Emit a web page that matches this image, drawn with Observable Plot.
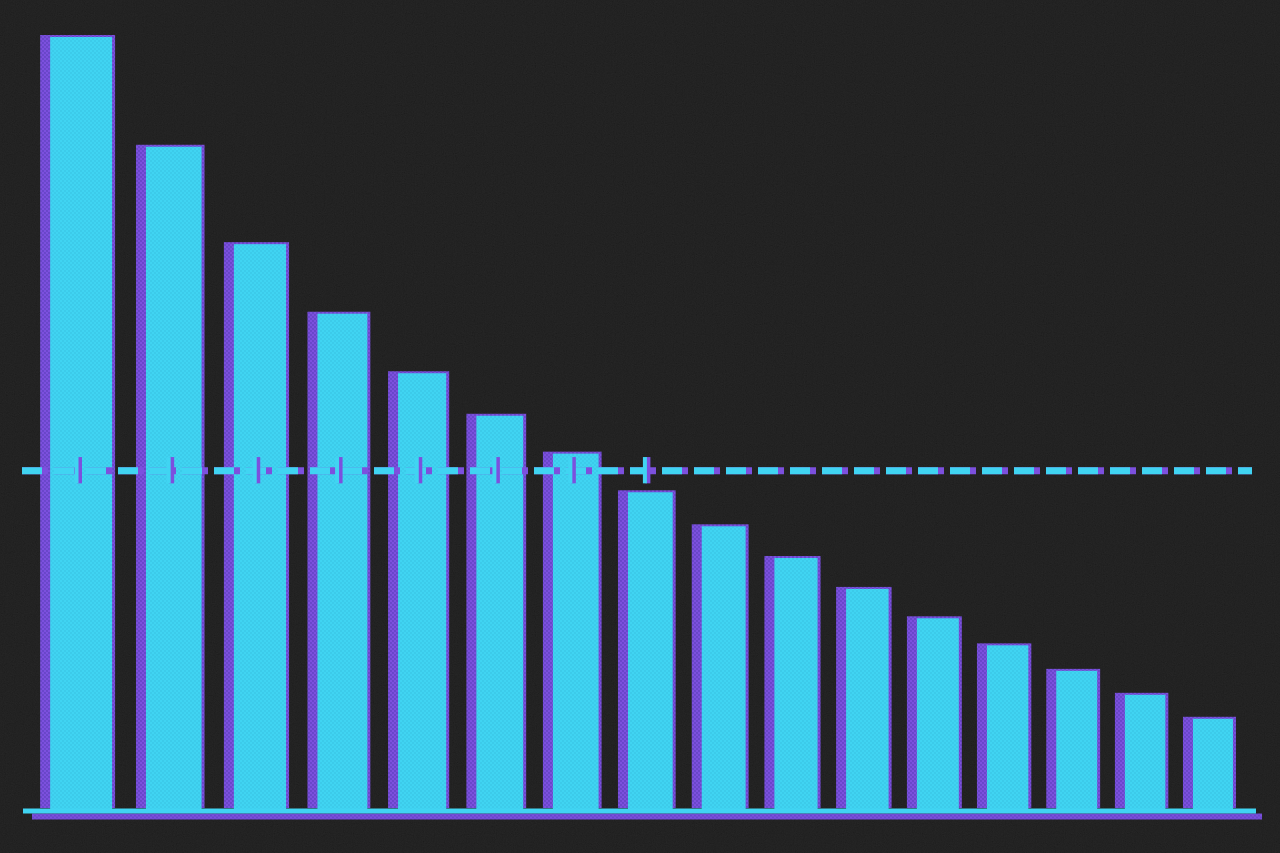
<!DOCTYPE html>
<html>
<head>
<meta charset="utf-8">
<script src="https://cdn.jsdelivr.net/npm/d3@7"></script>
<script src="https://cdn.jsdelivr.net/npm/@observablehq/plot@0.6"></script>
<style>
  html, body { margin: 0; padding: 0; background: #1c1c1c; overflow: hidden; }
  #chart svg { display: block; }
</style>
</head>
<body>
<div id="chart"></div>
<script>
// Data (first bar = 100)
const categories = [1, 2, 3, 4, 5, 6, 7, 8, 9, 10, 11, 12, 13, 14, 15, 16];
const values = [100, 85.8, 73.2, 64.2, 56.5, 51.0, 46.1, 41.1, 36.7, 32.6, 28.6, 24.8, 21.3, 18.0, 14.9, 11.8];
const referenceValue = 43.7;
const tickedCategories = [1, 2, 3, 4, 5, 6, 7, 8];

const data = categories.map((c, i) => ({category: c, value: values[i]}));

const CYAN = "#40d4f2";
const PURPLE = "#7c50de";
const HALF = 0.37; // half bar width, in category units

const chart = Plot.plot({
  width: 1280,
  height: 853,
  marginLeft: 42,
  marginRight: 47,
  marginTop: 35,
  marginBottom: 45,
  style: {background: "transparent"},
  // slight perspective: bars get narrower and closer towards the right
  x: {type: "pow", exponent: 0.87, domain: [1, 16], range: [77, 1208], axis: null},
  y: {domain: [0, 100], axis: null},
  marks: [
    // purple offset layer of bars
    Plot.rectY(data, {x1: d => d.category - HALF, x2: d => d.category + HALF, y: "value", fill: "url(#dotsPurple)", insetRight: -3}),
    // cyan bars
    Plot.rectY(data, {x1: d => d.category - HALF, x2: d => d.category + HALF, y: "value", fill: "url(#dotsCyan)", insetLeft: 10, dy: 2}),
    // dashed reference line
    Plot.ruleY([referenceValue], {stroke: PURPLE, strokeWidth: 7, strokeDasharray: "26,6", insetLeft: -20, insetRight: -19}),
    Plot.ruleY([referenceValue], {stroke: CYAN, strokeWidth: 7, strokeDasharray: "20,12", insetLeft: -20, insetRight: -19}),
    // ticks on the reference line
    Plot.ruleX(tickedCategories, {x: d => d, y1: referenceValue - 1.7, y2: referenceValue + 1.7, stroke: PURPLE, strokeWidth: 5, dx: 2}),
    Plot.ruleX(tickedCategories, {x: d => d, y1: referenceValue - 1.7, y2: referenceValue + 1.7, stroke: CYAN, strokeWidth: 4, dx: -1}),
    // baseline
    Plot.ruleY([0], {stroke: "url(#dotsPurple)", strokeWidth: 6, dy: 8, insetLeft: -10, insetRight: -29}),
    Plot.ruleY([0], {stroke: CYAN, strokeWidth: 5, dy: 2.5, insetLeft: -19, insetRight: -23})
  ]
});

const svg = d3.select(chart);
svg.insert("defs", ":first-child").html(`
  <pattern id="dotsCyan" width="4" height="4" patternUnits="userSpaceOnUse">
    <rect width="4" height="4" fill="${CYAN}"/>
    <circle cx="1" cy="1" r="0.8" fill="#2fb3d6" opacity="0.6"/>
    <circle cx="3" cy="3" r="0.8" fill="#2fb3d6" opacity="0.6"/>
  </pattern>
  <pattern id="dotsPurple" width="4" height="4" patternUnits="userSpaceOnUse">
    <rect width="4" height="4" fill="${PURPLE}"/>
    <circle cx="1" cy="1" r="0.9" fill="#5a3fb8" opacity="0.8"/>
    <circle cx="3" cy="3" r="0.9" fill="#5a3fb8" opacity="0.8"/>
  </pattern>
  <filter id="grain" x="0" y="0" width="100%" height="100%">
    <feTurbulence type="fractalNoise" baseFrequency="0.9" numOctaves="2" seed="3"/>
    <feColorMatrix type="matrix" values="0.33 0.33 0.33 0 0  0.33 0.33 0.33 0 0  0.33 0.33 0.33 0 0  0 0 0 0 1" />
  </filter>
`);
svg.insert("rect", "defs + *")
  .attr("width", 1280).attr("height", 853)
  .attr("fill", "#111111");
svg.insert("rect", "defs + rect + *")
  .attr("width", 1280).attr("height", 853)
  .attr("filter", "url(#grain)").attr("opacity", 0.1);

document.getElementById("chart").appendChild(chart);
</script>
</body>
</html>
